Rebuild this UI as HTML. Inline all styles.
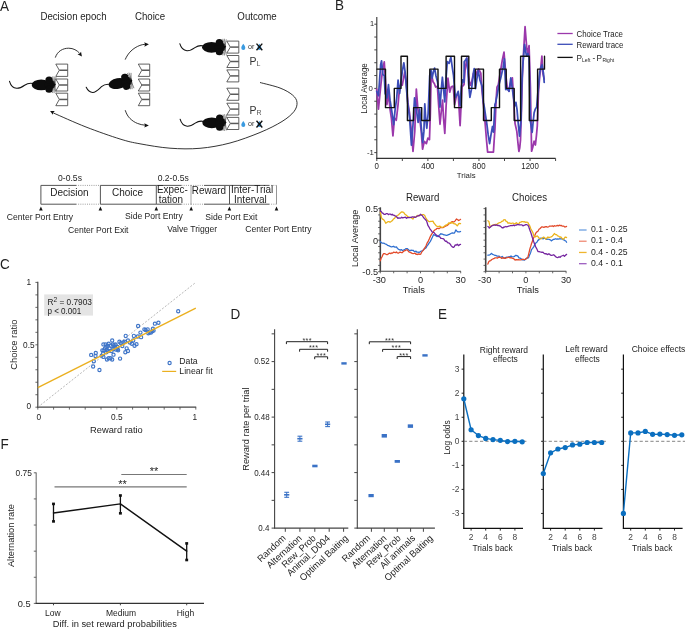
<!DOCTYPE html>
<html><head><meta charset="utf-8"><style>
html,body{margin:0;padding:0;background:#fff;width:685px;height:629px;overflow:hidden}
svg{display:block;will-change:transform;font-family:"Liberation Sans",sans-serif}
</style></head><body>
<svg width="685" height="629" viewBox="0 0 685 629">
<rect width="685" height="629" fill="#fff"/>
<text transform="translate(0.00,10.70) scale(0.9615,1)" font-size="14.04" text-anchor="start" fill="#1e1e1e" >A</text>
<text transform="translate(73.50,19.50) scale(0.9615,1)" font-size="10.09" text-anchor="middle" fill="#1e1e1e" >Decision epoch</text>
<text transform="translate(150.00,19.50) scale(0.9615,1)" font-size="10.09" text-anchor="middle" fill="#1e1e1e" >Choice</text>
<text transform="translate(257.00,19.50) scale(0.9615,1)" font-size="10.09" text-anchor="middle" fill="#1e1e1e" >Outcome</text>
<path d="M55.8,64.1 L67.7,64.1 L67.7,76.4 L55.8,76.4 L59.3,70.25 Z" fill="#fff" stroke="#3a3a3a" stroke-width="0.8"/>
<line x1="59.3" y1="70.25" x2="67.7" y2="70.25" stroke="#5a5a5a" stroke-width="1.5"/>
<path d="M55.8,79.0 L67.7,79.0 L67.7,91.0 L55.8,91.0 L59.3,85.0 Z" fill="#fff" stroke="#3a3a3a" stroke-width="0.8"/>
<line x1="59.3" y1="85.00" x2="67.7" y2="85.00" stroke="#5a5a5a" stroke-width="1.5"/>
<path d="M55.8,93.2 L67.7,93.2 L67.7,105.7 L55.8,105.7 L59.3,99.45 Z" fill="#fff" stroke="#3a3a3a" stroke-width="0.8"/>
<line x1="59.3" y1="99.45" x2="67.7" y2="99.45" stroke="#5a5a5a" stroke-width="1.5"/>
<path d="M138.3,64.1 L149.7,64.1 L149.7,76.4 L138.3,76.4 L141.8,70.25 Z" fill="#fff" stroke="#3a3a3a" stroke-width="0.8"/>
<line x1="141.8" y1="70.25" x2="149.7" y2="70.25" stroke="#5a5a5a" stroke-width="1.5"/>
<path d="M138.3,79.0 L149.7,79.0 L149.7,91.0 L138.3,91.0 L141.8,85.0 Z" fill="#fff" stroke="#3a3a3a" stroke-width="0.8"/>
<line x1="141.8" y1="85.00" x2="149.7" y2="85.00" stroke="#5a5a5a" stroke-width="1.5"/>
<path d="M138.3,93.2 L149.7,93.2 L149.7,105.7 L138.3,105.7 L141.8,99.45 Z" fill="#fff" stroke="#3a3a3a" stroke-width="0.8"/>
<line x1="141.8" y1="99.45" x2="149.7" y2="99.45" stroke="#5a5a5a" stroke-width="1.5"/>
<path d="M226.8,41.1 L238.8,41.1 L238.8,53.1 L226.8,53.1 L230.3,47.1 Z" fill="#fff" stroke="#3a3a3a" stroke-width="0.8"/>
<line x1="230.3" y1="47.10" x2="238.8" y2="47.10" stroke="#5a5a5a" stroke-width="1.5"/>
<path d="M226.8,55.5 L238.8,55.5 L238.8,67.5 L226.8,67.5 L230.3,61.5 Z" fill="#fff" stroke="#3a3a3a" stroke-width="0.8"/>
<line x1="230.3" y1="61.50" x2="238.8" y2="61.50" stroke="#5a5a5a" stroke-width="1.5"/>
<path d="M226.8,69.9 L238.8,69.9 L238.8,81.9 L226.8,81.9 L230.3,75.9 Z" fill="#fff" stroke="#3a3a3a" stroke-width="0.8"/>
<line x1="230.3" y1="75.90" x2="238.8" y2="75.90" stroke="#5a5a5a" stroke-width="1.5"/>
<path d="M226.8,88.2 L238.8,88.2 L238.8,100.3 L226.8,100.3 L230.3,94.25 Z" fill="#fff" stroke="#3a3a3a" stroke-width="0.8"/>
<line x1="230.3" y1="94.25" x2="238.8" y2="94.25" stroke="#5a5a5a" stroke-width="1.5"/>
<path d="M226.8,103.2 L238.8,103.2 L238.8,115.0 L226.8,115.0 L230.3,109.1 Z" fill="#fff" stroke="#3a3a3a" stroke-width="0.8"/>
<line x1="230.3" y1="109.10" x2="238.8" y2="109.10" stroke="#5a5a5a" stroke-width="1.5"/>
<path d="M226.8,117.4 L238.8,117.4 L238.8,129.5 L226.8,129.5 L230.3,123.45 Z" fill="#fff" stroke="#3a3a3a" stroke-width="0.8"/>
<line x1="230.3" y1="123.45" x2="238.8" y2="123.45" stroke="#5a5a5a" stroke-width="1.5"/>
<g transform="translate(55.60,84.70) rotate(0)">
<path d="M-22.6,-1.2 C-26,-2 -28,-1.5 -31,0.5 C-34,2.6 -36.5,3.8 -39,3.6 C-42,3.4 -44.8,1 -46.1,-3.4" fill="none" stroke="#111" stroke-width="1.05" stroke-linecap="round"/>
<ellipse cx="-14.4" cy="0.2" rx="9.5" ry="5.35" fill="#0d0d0d"/>
<ellipse cx="-5.6" cy="0" rx="5.6" ry="4.8" fill="#0d0d0d"/>
<ellipse cx="-6.5" cy="-4.7" rx="3.7" ry="3.5" fill="#0d0d0d"/>
<ellipse cx="-6.5" cy="4.6" rx="3.7" ry="3.5" fill="#0d0d0d"/>
<path d="M-1.5,0 L0.4,0 L-0.6,-1.2 Z" fill="#0d0d0d"/>
<path d="M-3.2,-8.2 L-1.2,-1.2 M-1.6,-8.4 L-0.6,-1.2 M0.4,-7.8 L-0.8,-1.4 M-3.2,8.2 L-1.2,1.2 M-1.6,8.4 L-0.6,1.2 M0.4,7.8 L-0.8,1.4" stroke="#444" stroke-width="0.6" fill="none"/>
</g>
<g transform="translate(132.10,80.60) rotate(-10.7)">
<ellipse cx="-14.4" cy="0.2" rx="9.5" ry="5.35" fill="#0d0d0d"/>
<ellipse cx="-5.6" cy="0" rx="5.6" ry="4.8" fill="#0d0d0d"/>
<ellipse cx="-6.5" cy="-4.7" rx="3.7" ry="3.5" fill="#0d0d0d"/>
<ellipse cx="-6.5" cy="4.6" rx="3.7" ry="3.5" fill="#0d0d0d"/>
<path d="M-1.5,0 L0.4,0 L-0.6,-1.2 Z" fill="#0d0d0d"/>
<path d="M-3.2,-8.2 L-1.2,-1.2 M-1.6,-8.4 L-0.6,-1.2 M0.4,-7.8 L-0.8,-1.4 M-3.2,8.2 L-1.2,1.2 M-1.6,8.4 L-0.6,1.2 M0.4,7.8 L-0.8,1.4" stroke="#444" stroke-width="0.6" fill="none"/>
</g>
<path d="M109.8,84.4 C106,84 104,84.5 101.5,86.7 C99,89 96,92.5 92.7,92.4 C90,92.3 87.5,90 86.2,87.3" fill="none" stroke="#111" stroke-width="1.05" stroke-linecap="round"/>
<g transform="translate(225.90,47.10) rotate(0)">
<path d="M-22.6,-1.2 C-26,-2 -28,-1.5 -31,0.5 C-34,2.6 -36.5,3.8 -39,3.6 C-42,3.4 -44.8,1 -46.1,-3.4" fill="none" stroke="#111" stroke-width="1.05" stroke-linecap="round"/>
<ellipse cx="-14.4" cy="0.2" rx="9.5" ry="5.35" fill="#0d0d0d"/>
<ellipse cx="-5.6" cy="0" rx="5.6" ry="4.8" fill="#0d0d0d"/>
<ellipse cx="-6.5" cy="-4.7" rx="3.7" ry="3.5" fill="#0d0d0d"/>
<ellipse cx="-6.5" cy="4.6" rx="3.7" ry="3.5" fill="#0d0d0d"/>
<path d="M-1.5,0 L0.4,0 L-0.6,-1.2 Z" fill="#0d0d0d"/>
<path d="M-3.2,-8.2 L-1.2,-1.2 M-1.6,-8.4 L-0.6,-1.2 M0.4,-7.8 L-0.8,-1.4 M-3.2,8.2 L-1.2,1.2 M-1.6,8.4 L-0.6,1.2 M0.4,7.8 L-0.8,1.4" stroke="#444" stroke-width="0.6" fill="none"/>
</g>
<g transform="translate(226.20,122.60) rotate(0)">
<path d="M-22.6,-1.2 C-26,-2 -28,-1.5 -31,0.5 C-34,2.6 -36.5,3.8 -39,3.6 C-42,3.4 -44.8,1 -46.1,-3.4" fill="none" stroke="#111" stroke-width="1.05" stroke-linecap="round"/>
<ellipse cx="-14.4" cy="0.2" rx="9.5" ry="5.35" fill="#0d0d0d"/>
<ellipse cx="-5.6" cy="0" rx="5.6" ry="4.8" fill="#0d0d0d"/>
<ellipse cx="-6.5" cy="-4.7" rx="3.7" ry="3.5" fill="#0d0d0d"/>
<ellipse cx="-6.5" cy="4.6" rx="3.7" ry="3.5" fill="#0d0d0d"/>
<path d="M-1.5,0 L0.4,0 L-0.6,-1.2 Z" fill="#0d0d0d"/>
<path d="M-3.2,-8.2 L-1.2,-1.2 M-1.6,-8.4 L-0.6,-1.2 M0.4,-7.8 L-0.8,-1.4 M-3.2,8.2 L-1.2,1.2 M-1.6,8.4 L-0.6,1.2 M0.4,7.8 L-0.8,1.4" stroke="#444" stroke-width="0.6" fill="none"/>
</g>
<path d="M55.3,57.6 C57.5,51 63,48.2 68.7,48.2 C73.5,48.2 77,50.5 79.4,53.0" fill="none" stroke="#111" stroke-width="0.85"/>
<polygon points="81.90,56.50 77.51,54.28 79.69,53.53 81.04,51.66" fill="#111"/>
<path d="M125.2,59.6 C128,53 133,48 139.9,45.4 C141.5,44.8 143,44.5 145,44.3" fill="none" stroke="#111" stroke-width="0.85"/>
<polygon points="148.90,44.20 144.40,46.65 145.04,44.37 144.21,42.15" fill="#111"/>
<path d="M125.2,110.2 C126.5,114 128,116.5 129.9,118.4 C132.5,121 135,122.4 137.4,123.4 C140,124.4 142.5,125 145,125.2" fill="none" stroke="#111" stroke-width="0.85"/>
<polygon points="148.90,125.40 144.30,127.55 145.04,125.40 144.30,123.25" fill="#111"/>
<path d="M260.00,82.50 C263.33,83.42 274.58,85.92 280.00,88.00 C285.42,90.08 289.67,92.60 292.50,95.00 C295.33,97.40 296.75,99.65 297.00,102.40 C297.25,105.15 296.50,108.32 294.00,111.50 C291.50,114.68 287.67,118.00 282.00,121.50 C276.33,125.00 268.67,128.92 260.00,132.50 C251.33,136.08 240.00,140.37 230.00,143.00 C220.00,145.63 210.00,147.43 200.00,148.30 C190.00,149.17 180.00,148.95 170.00,148.20 C160.00,147.45 148.33,145.33 140.00,143.80 C131.67,142.27 129.00,141.80 120.00,139.00 C111.00,136.20 97.10,131.33 86.00,127.00 C74.90,122.67 58.83,115.33 53.40,113.00" fill="none" stroke="#111" stroke-width="0.85"/>
<polygon points="50.10,111.00 54.79,111.10 53.22,112.64 52.84,114.81" fill="#111"/>
<path d="M243.3,43.70 C244.2,45.20 245.3,46.40 245.3,47.90 A2,2 0 0 1 241.3,47.90 C241.3,46.40 242.4,45.20 243.3,43.70 Z" fill="#3b9be0"/>
<text transform="translate(251.20,49.10) scale(0.9615,1)" font-size="7.49" text-anchor="middle" fill="#333" >or</text>
<path d="M259.40,43.70 C260.30,45.20 261.40,46.40 261.40,47.90 A2,2 0 0 1 257.40,47.90 C257.40,46.40 258.50,45.20 259.40,43.70 Z" fill="#3b9be0"/>
<path d="M256.5,43.60 L262.3,50.30 M262.3,43.60 L256.5,50.30" stroke="#111" stroke-width="1.35" stroke-linecap="butt"/>
<text transform="translate(249.60,65.00) scale(0.9615,1)" font-size="10.92" text-anchor="start" fill="#333" >P</text>
<text transform="translate(256.60,66.40) scale(0.9615,1)" font-size="7.28" text-anchor="start" fill="#555" >L</text>
<path d="M243.3,120.90 C244.2,122.40 245.3,123.60 245.3,125.10 A2,2 0 0 1 241.3,125.10 C241.3,123.60 242.4,122.40 243.3,120.90 Z" fill="#3b9be0"/>
<text transform="translate(251.20,126.30) scale(0.9615,1)" font-size="7.49" text-anchor="middle" fill="#333" >or</text>
<path d="M259.40,120.90 C260.30,122.40 261.40,123.60 261.40,125.10 A2,2 0 0 1 257.40,125.10 C257.40,123.60 258.50,122.40 259.40,120.90 Z" fill="#3b9be0"/>
<path d="M256.5,120.80 L262.3,127.50 M262.3,120.80 L256.5,127.50" stroke="#111" stroke-width="1.35" stroke-linecap="butt"/>
<text transform="translate(249.60,113.60) scale(0.9615,1)" font-size="10.92" text-anchor="start" fill="#333" >P</text>
<text transform="translate(256.60,115.00) scale(0.9615,1)" font-size="7.28" text-anchor="start" fill="#555" >R</text>
<line x1="40.90" y1="185.40" x2="76.00" y2="185.40" stroke="#555" stroke-width="1" />
<line x1="76.00" y1="185.40" x2="100.40" y2="185.40" stroke="#777" stroke-width="0.8" stroke-dasharray="0.9,1.3"/>
<line x1="100.40" y1="185.40" x2="156.30" y2="185.40" stroke="#555" stroke-width="1" />
<line x1="156.30" y1="185.40" x2="181.50" y2="185.40" stroke="#555" stroke-width="1" />
<line x1="181.50" y1="185.40" x2="191.00" y2="185.40" stroke="#777" stroke-width="0.8" stroke-dasharray="0.9,1.3"/>
<line x1="191.00" y1="185.40" x2="204.00" y2="185.40" stroke="#777" stroke-width="0.8" stroke-dasharray="0.9,1.3"/>
<line x1="204.00" y1="185.40" x2="229.50" y2="185.40" stroke="#555" stroke-width="1" />
<line x1="229.50" y1="185.40" x2="269.00" y2="185.40" stroke="#555" stroke-width="1" />
<line x1="269.00" y1="185.40" x2="276.50" y2="185.40" stroke="#777" stroke-width="0.8" stroke-dasharray="0.9,1.3"/>
<line x1="40.90" y1="204.20" x2="76.00" y2="204.20" stroke="#555" stroke-width="1" />
<line x1="76.00" y1="204.20" x2="100.40" y2="204.20" stroke="#777" stroke-width="0.8" stroke-dasharray="0.9,1.3"/>
<line x1="100.40" y1="204.20" x2="156.30" y2="204.20" stroke="#555" stroke-width="1" />
<line x1="156.30" y1="204.20" x2="181.50" y2="204.20" stroke="#555" stroke-width="1" />
<line x1="181.50" y1="204.20" x2="191.00" y2="204.20" stroke="#777" stroke-width="0.8" stroke-dasharray="0.9,1.3"/>
<line x1="191.00" y1="204.20" x2="204.00" y2="204.20" stroke="#777" stroke-width="0.8" stroke-dasharray="0.9,1.3"/>
<line x1="204.00" y1="204.20" x2="229.50" y2="204.20" stroke="#555" stroke-width="1" />
<line x1="229.50" y1="204.20" x2="269.00" y2="204.20" stroke="#555" stroke-width="1" />
<line x1="269.00" y1="204.20" x2="276.50" y2="204.20" stroke="#777" stroke-width="0.8" stroke-dasharray="0.9,1.3"/>
<line x1="40.90" y1="185.40" x2="40.90" y2="204.20" stroke="#555" stroke-width="1" />
<line x1="100.40" y1="185.40" x2="100.40" y2="204.20" stroke="#555" stroke-width="1" />
<line x1="156.30" y1="185.40" x2="156.30" y2="204.20" stroke="#555" stroke-width="1" />
<line x1="229.50" y1="185.40" x2="229.50" y2="204.20" stroke="#555" stroke-width="1" />
<line x1="191.00" y1="185.40" x2="191.00" y2="204.20" stroke="#999" stroke-width="0.9" />
<line x1="276.50" y1="185.40" x2="276.50" y2="204.20" stroke="#8a8a8a" stroke-width="0.9" />
<text transform="translate(70.00,180.80) scale(0.9615,1)" font-size="8.94" text-anchor="middle" fill="#1e1e1e" >0-0.5s</text>
<text transform="translate(173.20,180.50) scale(0.9615,1)" font-size="8.94" text-anchor="middle" fill="#1e1e1e" >0.2-0.5s</text>
<text transform="translate(69.40,196.10) scale(0.9615,1)" font-size="10.40" text-anchor="middle" fill="#1e1e1e" >Decision</text>
<text transform="translate(127.60,195.90) scale(0.9615,1)" font-size="10.40" text-anchor="middle" fill="#1e1e1e" >Choice</text>
<text transform="translate(172.40,193.40) scale(0.9615,1)" font-size="10.30" text-anchor="middle" fill="#1e1e1e" >Expec-</text>
<text transform="translate(170.90,202.70) scale(0.9615,1)" font-size="10.30" text-anchor="middle" fill="#1e1e1e" >tation</text>
<text transform="translate(208.90,193.50) scale(0.9615,1)" font-size="10.30" text-anchor="middle" fill="#1e1e1e" >Reward</text>
<text transform="translate(252.10,193.20) scale(0.9615,1)" font-size="10.40" text-anchor="middle" fill="#1e1e1e" >Inter-Trial</text>
<text transform="translate(250.40,202.70) scale(0.9615,1)" font-size="10.40" text-anchor="middle" fill="#1e1e1e" >Interval</text>
<polygon points="40.9,206.6 39.1,210.6 42.699999999999996,210.6" fill="#111"/>
<polygon points="100.4,206.6 98.60000000000001,210.6 102.2,210.6" fill="#111"/>
<polygon points="156.3,206.6 154.5,210.6 158.10000000000002,210.6" fill="#111"/>
<polygon points="191.2,206.6 189.39999999999998,210.6 193.0,210.6" fill="#111"/>
<polygon points="229.4,206.6 227.6,210.6 231.20000000000002,210.6" fill="#111"/>
<polygon points="276.5,206.6 274.7,210.6 278.3,210.6" fill="#111"/>
<text transform="translate(39.90,220.00) scale(0.9615,1)" font-size="8.94" text-anchor="middle" fill="#1e1e1e" >Center Port Entry</text>
<text transform="translate(98.20,232.60) scale(0.9615,1)" font-size="8.94" text-anchor="middle" fill="#1e1e1e" >Center Port Exit</text>
<text transform="translate(153.90,219.30) scale(0.9615,1)" font-size="8.94" text-anchor="middle" fill="#1e1e1e" >Side Port Entry</text>
<text transform="translate(192.20,231.60) scale(0.9615,1)" font-size="8.94" text-anchor="middle" fill="#1e1e1e" >Valve Trigger</text>
<text transform="translate(231.30,219.90) scale(0.9615,1)" font-size="8.94" text-anchor="middle" fill="#1e1e1e" >Side Port Exit</text>
<text transform="translate(278.40,231.60) scale(0.9615,1)" font-size="8.94" text-anchor="middle" fill="#1e1e1e" >Center Port Entry</text>
<text transform="translate(335.00,10.00) scale(0.9615,1)" font-size="14.04" text-anchor="start" fill="#1e1e1e" >B</text>
<line x1="376.80" y1="17.00" x2="376.80" y2="158.90" stroke="#333" stroke-width="1.1" />
<line x1="376.30" y1="158.40" x2="555.60" y2="158.40" stroke="#333" stroke-width="1.1" />
<line x1="374.30" y1="24.20" x2="376.80" y2="24.20" stroke="#333" stroke-width="0.9" />
<line x1="374.30" y1="37.04" x2="376.80" y2="37.04" stroke="#333" stroke-width="0.9" />
<line x1="374.30" y1="49.88" x2="376.80" y2="49.88" stroke="#333" stroke-width="0.9" />
<line x1="374.30" y1="62.72" x2="376.80" y2="62.72" stroke="#333" stroke-width="0.9" />
<line x1="374.30" y1="75.56" x2="376.80" y2="75.56" stroke="#333" stroke-width="0.9" />
<line x1="374.30" y1="88.40" x2="376.80" y2="88.40" stroke="#333" stroke-width="0.9" />
<line x1="374.30" y1="101.24" x2="376.80" y2="101.24" stroke="#333" stroke-width="0.9" />
<line x1="374.30" y1="114.08" x2="376.80" y2="114.08" stroke="#333" stroke-width="0.9" />
<line x1="374.30" y1="126.92" x2="376.80" y2="126.92" stroke="#333" stroke-width="0.9" />
<line x1="374.30" y1="139.76" x2="376.80" y2="139.76" stroke="#333" stroke-width="0.9" />
<line x1="374.30" y1="152.60" x2="376.80" y2="152.60" stroke="#333" stroke-width="0.9" />
<line x1="376.80" y1="158.40" x2="376.80" y2="161.00" stroke="#333" stroke-width="0.9" />
<line x1="402.34" y1="158.40" x2="402.34" y2="161.00" stroke="#333" stroke-width="0.9" />
<line x1="427.88" y1="158.40" x2="427.88" y2="161.00" stroke="#333" stroke-width="0.9" />
<line x1="453.42" y1="158.40" x2="453.42" y2="161.00" stroke="#333" stroke-width="0.9" />
<line x1="478.96" y1="158.40" x2="478.96" y2="161.00" stroke="#333" stroke-width="0.9" />
<line x1="504.50" y1="158.40" x2="504.50" y2="161.00" stroke="#333" stroke-width="0.9" />
<line x1="530.04" y1="158.40" x2="530.04" y2="161.00" stroke="#333" stroke-width="0.9" />
<line x1="555.58" y1="158.40" x2="555.58" y2="161.00" stroke="#333" stroke-width="0.9" />
<text transform="translate(374.00,25.90) scale(0.9615,1)" font-size="7.70" text-anchor="end" fill="#1e1e1e" >1</text>
<text transform="translate(372.80,91.30) scale(0.9615,1)" font-size="8.11" text-anchor="end" fill="#1e1e1e" >0</text>
<text transform="translate(373.80,155.00) scale(0.9615,1)" font-size="8.11" text-anchor="end" fill="#1e1e1e" >-1</text>
<text transform="translate(376.80,168.60) scale(0.9615,1)" font-size="8.22" text-anchor="middle" fill="#1e1e1e" >0</text>
<text transform="translate(427.88,168.60) scale(0.9615,1)" font-size="8.22" text-anchor="middle" fill="#1e1e1e" >400</text>
<text transform="translate(478.96,168.60) scale(0.9615,1)" font-size="8.22" text-anchor="middle" fill="#1e1e1e" >800</text>
<text transform="translate(530.04,168.60) scale(0.9615,1)" font-size="8.22" text-anchor="middle" fill="#1e1e1e" >1200</text>
<text transform="translate(466.20,177.60) scale(0.9615,1)" font-size="8.11" text-anchor="middle" fill="#1e1e1e" >Trials</text>
<text transform="translate(366.80,88.50) rotate(-90) scale(0.9615,1)" font-size="8.32" text-anchor="middle" fill="#1e1e1e">Local Average</text>
<polyline points="376.67,89.06 378.46,109.11 379.79,95.74 381.13,82.38 382.47,71.24 384.25,61.88 385.58,82.38 386.92,104.65 388.48,93.51 390.04,109.11 391.38,118.02 392.94,135.84 394.50,118.02 396.28,120.25 398.06,104.65 399.62,86.83 401.18,84.60 402.29,85.05 403.63,77.92 404.74,72.13 406.30,82.38 407.86,102.43 409.64,113.56 411.43,131.39 412.99,151.44 414.77,131.39 416.33,89.06 417.89,109.11 419.67,118.02 421.23,131.39 422.56,149.21 424.35,141.41 426.35,143.64 427.91,138.07 429.47,139.63 430.36,113.56 431.21,73.02 433.01,81.71 434.30,83.49 435.62,87.05 437.40,86.16 438.60,104.65 440.01,124.26 441.50,109.11 442.61,100.20 443.50,118.02 444.80,133.39 446.18,104.65 447.94,78.14 449.72,92.18 451.30,86.83 453.22,86.16 454.64,104.65 456.43,95.74 458.21,93.51 460.10,125.59 462.00,86.83 464.00,84.60 465.10,70.35 466.79,58.09 468.02,71.24 469.13,80.15 470.29,85.27 471.58,82.38 473.37,73.47 475.15,77.92 476.71,72.35 478.60,69.01 480.81,73.24 481.83,89.06 483.39,104.65 484.50,115.79 485.40,126.49 486.51,140.30 487.62,152.10 493.42,152.10 494.31,138.07 494.98,128.49 496.09,99.98 496.98,87.05 498.32,84.60 500.10,73.47 502.19,60.77 504.00,52.08 505.00,64.55 506.11,77.92 507.23,86.83 509.01,91.29 510.79,82.38 512.35,77.92 513.47,95.74 515.02,123.37 516.81,131.39 518.14,144.75 518.90,151.44 519.70,148.09 520.50,140.07 521.49,110.00 522.38,75.69 523.49,53.42 525.05,26.68 526.83,48.96 527.95,53.42 529.06,45.62 530.40,86.83 531.60,151.21 532.85,146.98 534.09,141.19 535.41,144.98 536.41,135.84 537.30,125.82 538.42,93.51 539.75,75.69 540.64,69.01 541.89,56.09 542.87,73.47 544.21,79.03" fill="none" stroke="#9b38ab" stroke-width="1.75" stroke-linejoin="round" stroke-linecap="round" />
<polyline points="376.67,91.29 378.46,95.74 380.68,64.55 381.57,60.77 382.91,74.58 384.25,75.69 385.14,93.51 386.92,97.97 388.48,84.60 390.04,100.20 391.82,111.34 393.60,124.70 395.16,109.11 396.72,97.97 398.06,80.15 399.62,93.51 401.18,80.15 402.51,70.12 403.85,62.77 405.19,72.35 406.30,86.83 407.86,104.65 409.64,118.02 411.43,145.20 412.99,124.70 414.54,97.97 416.33,109.11 418.11,122.48 419.67,109.11 421.23,126.93 422.79,142.52 423.90,131.39 424.79,103.76 425.68,118.02 426.80,128.27 428.13,113.56 429.69,75.69 431.03,70.35 432.14,78.14 433.48,71.24 434.59,68.12 435.93,75.69 437.49,81.71 439.05,93.51 439.94,107.10 441.50,86.83 442.39,77.25 443.28,86.83 444.80,101.98 445.73,82.38 447.29,61.66 449.07,63.44 450.86,57.20 452.19,66.78 453.53,75.69 455.31,97.30 456.87,94.63 458.21,91.29 460.10,105.54 461.33,86.83 462.66,79.93 464.00,82.38 464.21,61.66 465.90,59.43 466.79,58.09 467.71,67.67 468.69,84.60 469.89,97.30 471.61,88.61 473.41,73.02 474.19,68.56 475.50,88.61 476.71,80.15 478.20,70.35 479.89,79.93 482.10,86.16 483.39,102.43 484.39,107.33 485.62,115.79 486.80,123.59 488.20,134.95 489.61,143.64 490.97,134.95 492.50,126.49 493.50,132.05 494.91,104.43 495.64,102.43 497.43,93.51 498.99,84.60 500.50,79.03 503.11,67.67 504.40,58.99 505.71,89.50 507.23,89.06 509.01,91.29 510.79,77.92 512.35,89.06 513.91,100.20 515.09,105.54 515.92,102.43 517.01,109.33 518.14,122.48 519.50,136.06 521.00,120.02 521.71,86.83 522.82,64.55 524.60,44.50 526.39,55.64 527.95,53.42 529.06,57.87 530.31,120.69 531.29,126.93 532.20,132.28 533.07,122.48 534.09,113.12 535.30,109.11 536.70,106.88 537.97,91.29 539.75,72.35 540.64,67.90 542.09,64.78 543.50,73.47 544.21,82.38" fill="none" stroke="#3b4cb8" stroke-width="1.75" stroke-linejoin="round" stroke-linecap="round" />
<polyline points="377.00,69.14 385.50,69.14 385.50,107.66 394.30,107.66 394.30,88.40 401.00,88.40 401.00,56.30 407.40,56.30 407.40,120.50 413.60,120.50 413.60,107.66 421.70,107.66 421.70,120.50 429.80,120.50 429.80,69.14 438.00,69.14 438.00,88.40 446.10,88.40 446.10,56.30 454.50,56.30 454.50,107.66 461.50,107.66 461.50,56.30 468.80,56.30 468.80,88.40 475.40,88.40 475.40,69.14 483.50,69.14 483.50,120.50 491.30,120.50 491.30,107.66 499.50,107.66 499.50,69.14 506.20,69.14 506.20,88.40 514.20,88.40 514.20,120.50 520.60,120.50 520.60,56.30 529.30,56.30 529.30,120.50 537.60,120.50 537.60,69.14 544.50,69.14 544.50,56.30" fill="none" stroke="#111" stroke-width="1.4" stroke-linejoin="round" stroke-linecap="round" stroke-linecap="butt" stroke-linejoin="miter"/>
<line x1="557.40" y1="33.50" x2="572.70" y2="33.50" stroke="#9b38ab" stroke-width="1.3" />
<line x1="557.40" y1="44.30" x2="572.70" y2="44.30" stroke="#3b4cb8" stroke-width="1.3" />
<line x1="557.40" y1="57.40" x2="572.70" y2="57.40" stroke="#111" stroke-width="1.3" />
<text transform="translate(576.50,36.80) scale(0.9615,1)" font-size="8.22" text-anchor="start" fill="#1e1e1e" >Choice Trace</text>
<text transform="translate(576.50,47.60) scale(0.9615,1)" font-size="8.22" text-anchor="start" fill="#1e1e1e" >Reward trace</text>
<text transform="translate(576.50,60.50) scale(0.9615,1)" font-size="8.53" text-anchor="start" fill="#1e1e1e" >P</text>
<text transform="translate(582.00,62.00) scale(0.9615,1)" font-size="5.20" text-anchor="start" fill="#1e1e1e" >Left</text>
<text transform="translate(592.40,60.50) scale(0.9615,1)" font-size="8.53" text-anchor="start" fill="#1e1e1e" >-</text>
<text transform="translate(596.60,60.50) scale(0.9615,1)" font-size="8.53" text-anchor="start" fill="#1e1e1e" >P</text>
<text transform="translate(602.40,62.00) scale(0.9615,1)" font-size="5.20" text-anchor="start" fill="#1e1e1e" >Right</text>
<line x1="380.30" y1="207.30" x2="380.30" y2="271.30" stroke="#444" stroke-width="1.6" />
<line x1="379.80" y1="271.30" x2="460.90" y2="271.30" stroke="#444" stroke-width="1.1" />
<line x1="378.10" y1="208.60" x2="380.30" y2="208.60" stroke="#444" stroke-width="0.8" />
<line x1="378.10" y1="214.91" x2="380.30" y2="214.91" stroke="#444" stroke-width="0.8" />
<line x1="378.10" y1="221.22" x2="380.30" y2="221.22" stroke="#444" stroke-width="0.8" />
<line x1="378.10" y1="227.53" x2="380.30" y2="227.53" stroke="#444" stroke-width="0.8" />
<line x1="378.10" y1="233.84" x2="380.30" y2="233.84" stroke="#444" stroke-width="0.8" />
<line x1="378.10" y1="240.15" x2="380.30" y2="240.15" stroke="#444" stroke-width="0.8" />
<line x1="378.10" y1="246.46" x2="380.30" y2="246.46" stroke="#444" stroke-width="0.8" />
<line x1="378.10" y1="252.77" x2="380.30" y2="252.77" stroke="#444" stroke-width="0.8" />
<line x1="378.10" y1="259.08" x2="380.30" y2="259.08" stroke="#444" stroke-width="0.8" />
<line x1="378.10" y1="265.39" x2="380.30" y2="265.39" stroke="#444" stroke-width="0.8" />
<line x1="378.10" y1="271.70" x2="380.30" y2="271.70" stroke="#444" stroke-width="0.8" />
<line x1="380.30" y1="271.30" x2="380.30" y2="273.30" stroke="#444" stroke-width="0.8" />
<line x1="393.70" y1="271.30" x2="393.70" y2="273.30" stroke="#444" stroke-width="0.8" />
<line x1="407.10" y1="271.30" x2="407.10" y2="273.30" stroke="#444" stroke-width="0.8" />
<line x1="420.50" y1="271.30" x2="420.50" y2="273.30" stroke="#444" stroke-width="0.8" />
<line x1="433.90" y1="271.30" x2="433.90" y2="273.30" stroke="#444" stroke-width="0.8" />
<line x1="447.30" y1="271.30" x2="447.30" y2="273.30" stroke="#444" stroke-width="0.8" />
<line x1="460.70" y1="271.30" x2="460.70" y2="273.30" stroke="#444" stroke-width="0.8" />
<text transform="translate(379.30,283.00) scale(0.9615,1)" font-size="9.57" text-anchor="middle" fill="#1e1e1e" >-30</text>
<text transform="translate(420.50,283.00) scale(0.9615,1)" font-size="9.57" text-anchor="middle" fill="#1e1e1e" >0</text>
<text transform="translate(460.70,283.00) scale(0.9615,1)" font-size="9.57" text-anchor="middle" fill="#1e1e1e" >30</text>
<text transform="translate(413.80,292.60) scale(0.9615,1)" font-size="9.67" text-anchor="middle" fill="#1e1e1e" >Trials</text>
<text transform="translate(422.60,200.70) scale(0.9615,1)" font-size="10.09" text-anchor="middle" fill="#1e1e1e" >Reward</text>
<line x1="485.70" y1="207.30" x2="485.70" y2="271.30" stroke="#444" stroke-width="1.6" />
<line x1="485.20" y1="271.30" x2="566.30" y2="271.30" stroke="#444" stroke-width="1.1" />
<line x1="483.50" y1="208.60" x2="485.70" y2="208.60" stroke="#444" stroke-width="0.8" />
<line x1="483.50" y1="214.91" x2="485.70" y2="214.91" stroke="#444" stroke-width="0.8" />
<line x1="483.50" y1="221.22" x2="485.70" y2="221.22" stroke="#444" stroke-width="0.8" />
<line x1="483.50" y1="227.53" x2="485.70" y2="227.53" stroke="#444" stroke-width="0.8" />
<line x1="483.50" y1="233.84" x2="485.70" y2="233.84" stroke="#444" stroke-width="0.8" />
<line x1="483.50" y1="240.15" x2="485.70" y2="240.15" stroke="#444" stroke-width="0.8" />
<line x1="483.50" y1="246.46" x2="485.70" y2="246.46" stroke="#444" stroke-width="0.8" />
<line x1="483.50" y1="252.77" x2="485.70" y2="252.77" stroke="#444" stroke-width="0.8" />
<line x1="483.50" y1="259.08" x2="485.70" y2="259.08" stroke="#444" stroke-width="0.8" />
<line x1="483.50" y1="265.39" x2="485.70" y2="265.39" stroke="#444" stroke-width="0.8" />
<line x1="483.50" y1="271.70" x2="485.70" y2="271.70" stroke="#444" stroke-width="0.8" />
<line x1="485.70" y1="271.30" x2="485.70" y2="273.30" stroke="#444" stroke-width="0.8" />
<line x1="499.10" y1="271.30" x2="499.10" y2="273.30" stroke="#444" stroke-width="0.8" />
<line x1="512.50" y1="271.30" x2="512.50" y2="273.30" stroke="#444" stroke-width="0.8" />
<line x1="525.90" y1="271.30" x2="525.90" y2="273.30" stroke="#444" stroke-width="0.8" />
<line x1="539.30" y1="271.30" x2="539.30" y2="273.30" stroke="#444" stroke-width="0.8" />
<line x1="552.70" y1="271.30" x2="552.70" y2="273.30" stroke="#444" stroke-width="0.8" />
<line x1="566.10" y1="271.30" x2="566.10" y2="273.30" stroke="#444" stroke-width="0.8" />
<text transform="translate(484.70,283.00) scale(0.9615,1)" font-size="9.57" text-anchor="middle" fill="#1e1e1e" >-30</text>
<text transform="translate(525.90,283.00) scale(0.9615,1)" font-size="9.57" text-anchor="middle" fill="#1e1e1e" >0</text>
<text transform="translate(566.10,283.00) scale(0.9615,1)" font-size="9.57" text-anchor="middle" fill="#1e1e1e" >30</text>
<text transform="translate(527.80,292.60) scale(0.9615,1)" font-size="9.67" text-anchor="middle" fill="#1e1e1e" >Trials</text>
<text transform="translate(529.60,200.70) scale(0.9615,1)" font-size="10.09" text-anchor="middle" fill="#1e1e1e" >Choices</text>
<text transform="translate(378.20,211.50) scale(0.9615,1)" font-size="9.57" text-anchor="end" fill="#1e1e1e" >0.5</text>
<text transform="translate(378.20,243.80) scale(0.9615,1)" font-size="9.57" text-anchor="end" fill="#1e1e1e" >0</text>
<text transform="translate(378.20,275.00) scale(0.9615,1)" font-size="9.57" text-anchor="end" fill="#1e1e1e" >-0.5</text>
<text transform="translate(357.90,238.40) rotate(-90) scale(0.9615,1)" font-size="9.46" text-anchor="middle" fill="#1e1e1e">Local Average</text>
<polyline points="380.29,241.49 381.22,242.59 382.15,243.21 383.23,243.20 384.30,243.38 385.37,244.01 386.45,244.25 387.52,245.38 388.59,245.57 389.67,246.12 390.74,246.59 391.69,246.95 392.65,246.51 393.60,246.26 394.55,247.02 395.51,247.11 396.46,246.94 397.42,248.38 398.37,249.18 399.32,249.71 400.28,250.04 401.23,249.63 402.19,250.33 403.14,250.28 404.09,249.80 405.05,249.33 406.12,248.57 407.19,248.58 408.27,249.49 409.34,250.53 410.29,250.59 411.25,250.05 412.20,250.48 413.16,250.29 414.11,251.37 415.06,251.56 416.02,251.21 416.97,252.23 417.93,252.11 418.88,252.44 419.83,252.12 420.79,251.25 421.86,250.93 422.93,250.48 424.01,249.08 425.08,248.46 426.15,247.63 427.23,245.45 428.30,244.43 429.37,242.64 430.45,241.29 431.52,238.97 432.59,236.79 433.66,234.59 434.74,235.22 435.81,235.78 436.88,236.60 437.96,236.06 438.91,235.59 439.86,234.81 440.82,233.68 441.77,234.21 442.73,234.15 443.68,234.85 444.63,234.84 445.59,235.20 446.54,235.42 447.50,235.21 448.45,234.60 449.40,234.42 450.36,233.73 451.31,233.24 452.27,232.85 453.34,233.18 454.41,233.08 455.13,231.60 455.84,229.88 456.92,231.19 457.99,231.89 458.85,231.94 459.71,231.86 460.56,231.48" fill="none" stroke="#2e6fd0" stroke-width="1.28" stroke-linejoin="round" stroke-linecap="round" />
<polyline points="380.29,260.81 381.44,257.55 382.15,256.54 382.87,254.66 383.59,253.74 384.30,253.65 385.37,253.96 386.45,254.54 387.52,254.55 388.59,253.64 389.67,253.14 390.74,253.60 391.69,252.96 392.65,253.13 393.60,252.11 394.55,252.45 395.51,252.61 396.46,251.93 397.42,252.95 398.37,253.14 399.32,252.42 400.28,252.18 401.23,252.51 402.19,252.71 403.14,251.62 404.09,250.96 405.05,250.71 406.12,249.92 407.19,249.77 408.27,251.08 409.34,252.22 410.29,252.41 411.25,252.88 412.20,253.35 413.16,253.61 414.11,253.43 415.06,253.13 416.02,254.27 416.97,254.20 417.93,254.53 418.88,253.79 419.83,254.44 420.79,254.05 421.86,251.81 422.93,250.61 424.01,249.25 425.08,247.45 426.15,245.55 427.23,242.84 428.30,241.14 429.37,238.82 430.45,236.27 431.52,234.44 432.59,232.97 433.66,231.14 434.74,230.05 435.81,229.43 436.88,228.46 437.96,228.33 438.91,228.71 439.86,228.05 440.82,227.54 441.77,227.72 442.73,227.65 443.68,227.38 444.63,226.57 445.59,226.16 446.54,225.76 447.50,225.35 448.45,224.35 449.40,223.49 450.36,223.12 451.31,222.14 452.27,221.68 453.22,221.92 454.17,221.76 455.13,220.85 455.84,219.91 456.56,218.95 457.63,219.68 458.70,220.56 459.63,219.97 460.56,219.32" fill="none" stroke="#e24a2a" stroke-width="1.28" stroke-linejoin="round" stroke-linecap="round" />
<polyline points="380.29,212.16 381.44,217.67 382.51,219.09 383.59,219.54 384.66,221.01 385.73,223.26 386.80,222.44 387.88,221.65 388.95,221.61 390.02,222.29 391.10,221.58 392.17,220.84 393.24,219.30 394.32,218.52 395.39,217.05 396.46,215.98 397.54,215.57 398.61,214.80 399.56,213.64 400.52,212.82 401.47,211.91 402.54,212.01 403.62,212.36 404.69,213.91 405.76,214.82 406.84,215.61 407.91,216.89 408.86,216.96 409.82,217.48 410.77,217.60 411.84,218.08 412.92,219.12 413.63,217.84 414.35,217.18 415.42,217.15 416.49,216.22 417.57,215.39 418.64,215.89 419.71,215.21 420.79,214.57 421.74,214.76 422.69,214.60 423.65,214.63 424.72,215.58 425.79,217.70 426.87,219.68 427.94,220.80 428.90,221.55 429.85,221.60 430.80,221.42 431.88,221.35 432.95,221.17 434.02,223.22 435.10,224.33 436.17,225.76 437.24,226.31 438.31,226.53 439.39,226.19 440.46,226.43 441.53,227.26 442.61,227.29 443.68,226.72 444.63,225.98 445.59,225.21 446.54,224.85 447.62,224.33 448.69,222.81 449.76,223.34 450.83,222.35 451.91,223.20 452.98,222.68 454.05,223.75 455.13,223.84 456.20,224.69 457.27,225.77 457.99,224.85 458.70,223.71 459.63,223.40 460.56,223.61" fill="none" stroke="#ebb31c" stroke-width="1.28" stroke-linejoin="round" stroke-linecap="round" />
<polyline points="380.29,210.73 381.22,211.52 382.15,212.93 383.23,213.45 384.30,214.42 385.37,214.30 386.45,213.54 387.40,213.58 388.35,214.58 389.31,214.04 390.26,214.02 391.22,214.85 392.17,214.28 393.12,215.16 394.08,215.24 395.03,215.89 395.99,216.07 396.94,217.32 397.89,218.29 398.85,217.91 399.80,218.15 400.76,218.07 401.71,217.26 402.66,217.88 403.62,217.56 404.57,217.38 405.52,217.23 406.48,218.29 407.43,217.62 408.39,217.65 409.34,217.59 410.29,217.31 411.25,217.44 412.20,216.77 413.16,217.21 414.11,216.82 415.06,217.36 416.02,217.16 416.97,216.15 417.93,216.05 418.78,215.43 419.64,215.54 420.50,214.24 421.36,215.16 422.22,215.52 423.29,217.18 424.36,218.48 425.44,219.51 426.51,220.84 427.23,222.99 427.94,225.48 429.01,227.03 430.09,229.09 431.16,230.44 432.23,232.02 433.19,232.38 434.14,232.54 435.10,234.02 436.05,234.85 437.00,235.50 437.96,235.85 438.91,236.72 439.86,236.88 440.82,238.28 441.77,238.48 442.73,238.63 443.68,238.87 444.63,240.45 445.59,241.32 446.54,241.04 447.50,242.54 448.45,242.83 449.40,243.26 450.36,244.37 451.31,245.84 452.27,246.91 453.41,247.43 454.27,246.84 455.13,245.00 456.20,245.17 457.27,244.17 457.99,245.13 458.70,245.60 459.63,244.72 460.56,244.36" fill="none" stroke="#74249f" stroke-width="1.28" stroke-linejoin="round" stroke-linecap="round" />
<polyline points="487.87,255.09 488.59,255.17 489.30,255.01 490.37,254.46 491.45,253.33 492.52,254.36 493.59,254.73 494.67,255.26 495.74,255.43 496.81,256.04 497.89,256.04 498.96,256.10 500.03,257.02 501.10,257.28 502.18,256.45 503.25,257.84 504.32,258.06 505.28,257.58 506.23,257.23 507.19,257.43 508.14,256.95 509.09,256.96 510.05,256.70 511.00,256.02 511.96,256.62 512.91,256.76 513.86,256.61 514.82,256.07 515.77,255.30 516.84,255.62 517.92,256.12 518.99,257.93 520.06,258.16 521.14,258.73 522.21,259.82 523.28,259.53 524.36,260.15 525.43,259.31 526.50,258.19 527.58,258.04 528.65,257.61 529.36,255.42 530.08,254.07 530.79,252.13 531.51,249.57 532.58,248.29 533.66,246.85 534.73,244.89 535.80,242.96 536.88,242.24 537.95,240.39 539.02,239.64 540.10,238.21 541.05,238.55 542.00,238.11 542.96,238.94 543.91,238.19 544.86,238.27 545.82,238.97 546.77,239.36 547.73,239.04 548.68,239.25 549.63,239.55 550.59,240.05 551.54,240.91 552.50,239.95 553.45,239.41 554.40,239.30 555.36,238.74 556.31,239.03 557.27,238.99 558.22,239.03 559.17,238.80 560.13,238.75 561.08,238.99 562.03,238.66 562.99,239.58 563.94,239.88 564.90,240.58 565.85,241.03 566.57,242.21" fill="none" stroke="#2e6fd0" stroke-width="1.28" stroke-linejoin="round" stroke-linecap="round" />
<polyline points="487.87,264.10 488.87,261.47 489.80,260.88 490.73,260.56 491.80,259.49 492.88,258.96 493.83,258.71 494.79,257.94 495.74,257.96 496.69,257.95 497.65,257.99 498.60,257.07 499.55,257.45 500.51,257.36 501.46,258.29 502.42,258.16 503.37,257.45 504.32,258.48 505.28,258.32 506.23,257.83 507.19,257.65 508.14,257.29 509.09,257.27 510.05,257.98 511.00,257.70 511.96,258.09 512.91,258.38 513.98,258.86 515.06,260.06 516.13,259.67 517.20,259.76 518.16,259.54 519.11,259.82 520.06,259.81 521.02,259.84 521.97,259.48 522.93,259.14 523.88,259.69 524.83,259.45 525.79,259.04 526.86,258.18 527.93,257.03 528.65,254.07 529.36,251.28 530.08,248.18 530.79,246.08 531.51,243.53 532.23,241.88 532.94,239.22 533.66,237.71 534.73,235.80 535.80,233.08 536.88,231.87 537.95,231.21 539.02,229.30 540.10,228.43 541.05,227.45 542.00,226.76 542.96,227.04 543.91,227.30 544.86,226.84 545.82,226.73 546.77,226.76 547.73,227.22 548.68,226.75 549.63,226.05 550.59,226.19 551.54,226.03 552.50,225.84 553.45,226.51 554.40,225.69 555.36,226.01 556.31,225.79 557.27,225.41 558.22,225.91 559.17,225.16 560.13,225.63 561.08,225.38 562.03,226.05 562.99,226.15 563.88,226.22 564.78,226.99 565.67,226.80 566.57,226.47" fill="none" stroke="#e24a2a" stroke-width="1.28" stroke-linejoin="round" stroke-linecap="round" />
<polyline points="487.87,220.75 488.87,221.43 490.02,226.64 491.09,226.30 492.16,225.36 493.24,224.86 494.31,224.90 495.38,224.43 496.45,224.67 497.53,223.82 498.60,223.01 499.67,222.60 500.75,222.36 501.82,221.29 502.89,221.11 503.61,219.87 504.32,219.76 505.04,219.55 505.76,221.10 506.83,221.35 507.90,223.10 508.97,222.86 510.05,223.07 511.12,223.77 512.19,223.08 513.27,223.13 514.34,224.07 515.41,223.40 516.49,222.73 517.56,223.93 518.63,224.10 519.71,222.47 520.78,222.09 521.85,221.56 522.93,221.54 523.88,222.03 524.83,221.66 525.79,222.39 526.86,222.04 527.93,222.53 528.65,224.31 529.36,224.93 530.08,226.74 530.79,228.72 531.51,230.02 532.23,231.35 532.94,232.75 533.66,235.30 534.37,236.29 535.09,237.01 536.16,236.45 537.23,235.90 538.31,237.05 539.38,238.56 540.45,238.82 541.53,238.49 542.60,237.77 543.67,237.05 544.75,237.93 545.82,238.97 546.89,238.06 547.97,236.97 549.04,237.70 550.11,237.13 551.18,236.87 552.26,236.18 553.33,234.98 554.40,233.50 555.48,234.64 556.55,234.62 557.62,235.83 558.70,236.13 559.77,237.20 560.84,236.98 561.92,238.17 562.99,239.18 564.06,238.57 565.14,237.00 565.85,237.44 566.57,237.49" fill="none" stroke="#ebb31c" stroke-width="1.28" stroke-linejoin="round" stroke-linecap="round" />
<polyline points="487.87,226.47 488.59,226.92 489.30,228.11 490.02,227.39 490.73,226.85 491.80,225.77 492.88,225.46 493.83,225.13 494.79,224.98 495.74,225.30 496.69,224.87 497.65,225.55 498.60,225.44 499.67,225.89 500.75,226.40 501.82,227.56 502.89,228.02 503.85,227.03 504.80,226.99 505.76,226.51 506.71,226.93 507.66,226.48 508.62,226.09 509.57,225.92 510.52,225.64 511.48,225.68 512.43,225.60 513.39,225.11 514.34,225.85 515.29,225.17 516.25,225.18 517.20,224.68 518.16,224.68 519.11,224.75 520.06,224.96 521.02,224.98 521.97,224.91 522.93,225.82 523.88,225.42 524.83,225.24 525.79,224.53 526.86,224.74 527.93,225.31 528.65,226.43 529.36,228.81 530.08,230.70 530.79,232.55 531.51,234.73 532.23,237.23 532.94,239.08 533.66,241.45 534.73,244.47 535.80,247.10 536.88,248.96 537.95,251.50 539.02,251.58 540.10,251.94 541.05,252.03 542.00,252.37 542.96,252.19 543.91,253.16 544.86,253.82 545.82,253.54 546.77,254.14 547.73,254.61 548.68,253.87 549.63,254.22 550.59,255.19 551.54,255.46 552.62,255.24 553.69,254.71 554.76,255.71 555.83,256.92 556.91,257.30 557.98,257.57 559.05,256.76 560.13,257.34 561.20,256.09 562.27,255.75 563.35,255.26 564.42,256.32 565.49,255.20 566.57,254.37" fill="none" stroke="#74249f" stroke-width="1.28" stroke-linejoin="round" stroke-linecap="round" />
<line x1="579.00" y1="230.00" x2="586.60" y2="230.00" stroke="#6d9fe0" stroke-width="1.3" />
<text transform="translate(591.00,232.20) scale(0.9615,1)" font-size="9.05" text-anchor="start" fill="#1e1e1e" >0.1 - 0.25</text>
<line x1="579.00" y1="241.23" x2="586.60" y2="241.23" stroke="#ef8a75" stroke-width="1.3" />
<text transform="translate(591.00,243.43) scale(0.9615,1)" font-size="9.05" text-anchor="start" fill="#1e1e1e" >0.1 - 0.4</text>
<line x1="579.00" y1="252.46" x2="586.60" y2="252.46" stroke="#efb52e" stroke-width="1.3" />
<text transform="translate(591.00,254.66) scale(0.9615,1)" font-size="9.05" text-anchor="start" fill="#1e1e1e" >0.4 - 0.25</text>
<line x1="579.00" y1="263.69" x2="586.60" y2="263.69" stroke="#9c5cc0" stroke-width="1.3" />
<text transform="translate(591.00,265.89) scale(0.9615,1)" font-size="9.05" text-anchor="start" fill="#1e1e1e" >0.4 - 0.1</text>
<text transform="translate(0.00,268.90) scale(0.9615,1)" font-size="14.04" text-anchor="start" fill="#1e1e1e" >C</text>
<line x1="37.80" y1="281.80" x2="37.80" y2="407.70" stroke="#444" stroke-width="1.2" />
<line x1="37.30" y1="407.20" x2="196.20" y2="407.20" stroke="#444" stroke-width="1.2" />
<line x1="35.40" y1="407.20" x2="37.80" y2="407.20" stroke="#444" stroke-width="0.8" />
<line x1="37.80" y1="407.20" x2="37.80" y2="409.60" stroke="#444" stroke-width="0.8" />
<line x1="35.40" y1="394.72" x2="37.80" y2="394.72" stroke="#444" stroke-width="0.8" />
<line x1="53.60" y1="407.20" x2="53.60" y2="409.60" stroke="#444" stroke-width="0.8" />
<line x1="35.40" y1="382.24" x2="37.80" y2="382.24" stroke="#444" stroke-width="0.8" />
<line x1="69.40" y1="407.20" x2="69.40" y2="409.60" stroke="#444" stroke-width="0.8" />
<line x1="35.40" y1="369.76" x2="37.80" y2="369.76" stroke="#444" stroke-width="0.8" />
<line x1="85.20" y1="407.20" x2="85.20" y2="409.60" stroke="#444" stroke-width="0.8" />
<line x1="35.40" y1="357.28" x2="37.80" y2="357.28" stroke="#444" stroke-width="0.8" />
<line x1="101.00" y1="407.20" x2="101.00" y2="409.60" stroke="#444" stroke-width="0.8" />
<line x1="35.40" y1="344.80" x2="37.80" y2="344.80" stroke="#444" stroke-width="0.8" />
<line x1="116.80" y1="407.20" x2="116.80" y2="409.60" stroke="#444" stroke-width="0.8" />
<line x1="35.40" y1="332.32" x2="37.80" y2="332.32" stroke="#444" stroke-width="0.8" />
<line x1="132.60" y1="407.20" x2="132.60" y2="409.60" stroke="#444" stroke-width="0.8" />
<line x1="35.40" y1="319.84" x2="37.80" y2="319.84" stroke="#444" stroke-width="0.8" />
<line x1="148.40" y1="407.20" x2="148.40" y2="409.60" stroke="#444" stroke-width="0.8" />
<line x1="35.40" y1="307.36" x2="37.80" y2="307.36" stroke="#444" stroke-width="0.8" />
<line x1="164.20" y1="407.20" x2="164.20" y2="409.60" stroke="#444" stroke-width="0.8" />
<line x1="35.40" y1="294.88" x2="37.80" y2="294.88" stroke="#444" stroke-width="0.8" />
<line x1="180.00" y1="407.20" x2="180.00" y2="409.60" stroke="#444" stroke-width="0.8" />
<line x1="35.40" y1="282.40" x2="37.80" y2="282.40" stroke="#444" stroke-width="0.8" />
<line x1="195.80" y1="407.20" x2="195.80" y2="409.60" stroke="#444" stroke-width="0.8" />
<text transform="translate(31.20,285.00) scale(0.9615,1)" font-size="8.63" text-anchor="end" fill="#1e1e1e" >1</text>
<text transform="translate(34.60,347.60) scale(0.9615,1)" font-size="8.63" text-anchor="end" fill="#1e1e1e" >0.5</text>
<text transform="translate(31.20,409.00) scale(0.9615,1)" font-size="8.63" text-anchor="end" fill="#1e1e1e" >0</text>
<text transform="translate(38.80,419.80) scale(0.9615,1)" font-size="8.63" text-anchor="middle" fill="#1e1e1e" >0</text>
<text transform="translate(116.80,420.30) scale(0.9615,1)" font-size="8.63" text-anchor="middle" fill="#1e1e1e" >0.5</text>
<text transform="translate(194.80,420.30) scale(0.9615,1)" font-size="8.63" text-anchor="middle" fill="#1e1e1e" >1</text>
<text transform="translate(116.40,432.80) scale(0.9615,1)" font-size="9.67" text-anchor="middle" fill="#1e1e1e" >Reward ratio</text>
<text transform="translate(17.00,344.70) rotate(-90) scale(0.9615,1)" font-size="9.78" text-anchor="middle" fill="#1e1e1e">Choice ratio</text>
<rect x="44.2" y="294.4" width="48.8" height="21.2" fill="#e4e4e4"/>
<text transform="translate(47.40,305.10) scale(0.9615,1)" font-size="8.63" text-anchor="start" fill="#1e1e1e" >R<tspan font-size="6.9" dy="-3.5">2</tspan><tspan dy="3.5"> = 0.7903</tspan></text>
<text transform="translate(47.40,314.00) scale(0.9615,1)" font-size="8.42" text-anchor="start" fill="#1e1e1e" >p &lt; 0.001</text>
<line x1="37.80" y1="407.20" x2="195.80" y2="282.40" stroke="#9a9a9a" stroke-width="0.7" stroke-dasharray="2,1.6"/>
<circle cx="91.17" cy="354.93" r="1.6" fill="none" stroke="#3f75c8" stroke-width="1.15"/>
<circle cx="95.77" cy="352.96" r="1.6" fill="none" stroke="#3f75c8" stroke-width="1.15"/>
<circle cx="95.50" cy="355.98" r="1.6" fill="none" stroke="#3f75c8" stroke-width="1.15"/>
<circle cx="93.80" cy="361.23" r="1.6" fill="none" stroke="#3f75c8" stroke-width="1.15"/>
<circle cx="93.14" cy="366.49" r="1.6" fill="none" stroke="#3f75c8" stroke-width="1.15"/>
<circle cx="99.45" cy="370.04" r="1.6" fill="none" stroke="#3f75c8" stroke-width="1.15"/>
<circle cx="102.34" cy="350.33" r="1.6" fill="none" stroke="#3f75c8" stroke-width="1.15"/>
<circle cx="103.39" cy="344.42" r="1.6" fill="none" stroke="#3f75c8" stroke-width="1.15"/>
<circle cx="101.68" cy="355.58" r="1.6" fill="none" stroke="#3f75c8" stroke-width="1.15"/>
<circle cx="103.39" cy="356.90" r="1.6" fill="none" stroke="#3f75c8" stroke-width="1.15"/>
<circle cx="104.96" cy="348.36" r="1.6" fill="none" stroke="#3f75c8" stroke-width="1.15"/>
<circle cx="106.28" cy="347.04" r="1.6" fill="none" stroke="#3f75c8" stroke-width="1.15"/>
<circle cx="106.93" cy="350.33" r="1.6" fill="none" stroke="#3f75c8" stroke-width="1.15"/>
<circle cx="107.59" cy="345.73" r="1.6" fill="none" stroke="#3f75c8" stroke-width="1.15"/>
<circle cx="108.64" cy="343.76" r="1.6" fill="none" stroke="#3f75c8" stroke-width="1.15"/>
<circle cx="109.56" cy="348.36" r="1.6" fill="none" stroke="#3f75c8" stroke-width="1.15"/>
<circle cx="110.88" cy="345.73" r="1.6" fill="none" stroke="#3f75c8" stroke-width="1.15"/>
<circle cx="112.19" cy="340.47" r="1.6" fill="none" stroke="#3f75c8" stroke-width="1.15"/>
<circle cx="112.85" cy="344.42" r="1.6" fill="none" stroke="#3f75c8" stroke-width="1.15"/>
<circle cx="113.50" cy="349.02" r="1.6" fill="none" stroke="#3f75c8" stroke-width="1.15"/>
<circle cx="114.42" cy="345.07" r="1.6" fill="none" stroke="#3f75c8" stroke-width="1.15"/>
<circle cx="115.47" cy="344.42" r="1.6" fill="none" stroke="#3f75c8" stroke-width="1.15"/>
<circle cx="116.13" cy="349.67" r="1.6" fill="none" stroke="#3f75c8" stroke-width="1.15"/>
<circle cx="117.45" cy="349.02" r="1.6" fill="none" stroke="#3f75c8" stroke-width="1.15"/>
<circle cx="113.50" cy="354.66" r="1.6" fill="none" stroke="#3f75c8" stroke-width="1.15"/>
<circle cx="106.93" cy="359.53" r="1.6" fill="none" stroke="#3f75c8" stroke-width="1.15"/>
<circle cx="108.64" cy="358.21" r="1.6" fill="none" stroke="#3f75c8" stroke-width="1.15"/>
<circle cx="110.48" cy="358.21" r="1.6" fill="none" stroke="#3f75c8" stroke-width="1.15"/>
<circle cx="112.19" cy="359.53" r="1.6" fill="none" stroke="#3f75c8" stroke-width="1.15"/>
<circle cx="119.42" cy="341.79" r="1.6" fill="none" stroke="#3f75c8" stroke-width="1.15"/>
<circle cx="120.73" cy="343.10" r="1.6" fill="none" stroke="#3f75c8" stroke-width="1.15"/>
<circle cx="122.31" cy="345.99" r="1.6" fill="none" stroke="#3f75c8" stroke-width="1.15"/>
<circle cx="123.36" cy="342.45" r="1.6" fill="none" stroke="#3f75c8" stroke-width="1.15"/>
<circle cx="124.67" cy="341.79" r="1.6" fill="none" stroke="#3f75c8" stroke-width="1.15"/>
<circle cx="126.64" cy="348.36" r="1.6" fill="none" stroke="#3f75c8" stroke-width="1.15"/>
<circle cx="127.96" cy="350.99" r="1.6" fill="none" stroke="#3f75c8" stroke-width="1.15"/>
<circle cx="125.33" cy="352.30" r="1.6" fill="none" stroke="#3f75c8" stroke-width="1.15"/>
<circle cx="120.07" cy="358.61" r="1.6" fill="none" stroke="#3f75c8" stroke-width="1.15"/>
<circle cx="125.72" cy="335.88" r="1.6" fill="none" stroke="#3f75c8" stroke-width="1.15"/>
<circle cx="127.96" cy="340.47" r="1.6" fill="none" stroke="#3f75c8" stroke-width="1.15"/>
<circle cx="129.93" cy="342.45" r="1.6" fill="none" stroke="#3f75c8" stroke-width="1.15"/>
<circle cx="131.90" cy="343.76" r="1.6" fill="none" stroke="#3f75c8" stroke-width="1.15"/>
<circle cx="133.21" cy="340.47" r="1.6" fill="none" stroke="#3f75c8" stroke-width="1.15"/>
<circle cx="133.87" cy="335.88" r="1.6" fill="none" stroke="#3f75c8" stroke-width="1.15"/>
<circle cx="134.53" cy="345.73" r="1.6" fill="none" stroke="#3f75c8" stroke-width="1.15"/>
<circle cx="136.50" cy="344.15" r="1.6" fill="none" stroke="#3f75c8" stroke-width="1.15"/>
<circle cx="137.81" cy="336.53" r="1.6" fill="none" stroke="#3f75c8" stroke-width="1.15"/>
<circle cx="138.07" cy="326.02" r="1.6" fill="none" stroke="#3f75c8" stroke-width="1.15"/>
<circle cx="140.44" cy="332.59" r="1.6" fill="none" stroke="#3f75c8" stroke-width="1.15"/>
<circle cx="141.10" cy="337.19" r="1.6" fill="none" stroke="#3f75c8" stroke-width="1.15"/>
<circle cx="144.38" cy="329.31" r="1.6" fill="none" stroke="#3f75c8" stroke-width="1.15"/>
<circle cx="145.69" cy="329.96" r="1.6" fill="none" stroke="#3f75c8" stroke-width="1.15"/>
<circle cx="147.67" cy="329.31" r="1.6" fill="none" stroke="#3f75c8" stroke-width="1.15"/>
<circle cx="148.32" cy="333.25" r="1.6" fill="none" stroke="#3f75c8" stroke-width="1.15"/>
<circle cx="149.64" cy="332.59" r="1.6" fill="none" stroke="#3f75c8" stroke-width="1.15"/>
<circle cx="150.95" cy="332.59" r="1.6" fill="none" stroke="#3f75c8" stroke-width="1.15"/>
<circle cx="152.26" cy="331.28" r="1.6" fill="none" stroke="#3f75c8" stroke-width="1.15"/>
<circle cx="153.58" cy="330.62" r="1.6" fill="none" stroke="#3f75c8" stroke-width="1.15"/>
<circle cx="152.92" cy="328.65" r="1.6" fill="none" stroke="#3f75c8" stroke-width="1.15"/>
<circle cx="154.89" cy="323.66" r="1.6" fill="none" stroke="#3f75c8" stroke-width="1.15"/>
<circle cx="158.44" cy="322.74" r="1.6" fill="none" stroke="#3f75c8" stroke-width="1.15"/>
<circle cx="105.62" cy="344.42" r="1.6" fill="none" stroke="#3f75c8" stroke-width="1.15"/>
<circle cx="108.25" cy="350.99" r="1.6" fill="none" stroke="#3f75c8" stroke-width="1.15"/>
<circle cx="111.53" cy="350.99" r="1.6" fill="none" stroke="#3f75c8" stroke-width="1.15"/>
<circle cx="114.82" cy="347.04" r="1.6" fill="none" stroke="#3f75c8" stroke-width="1.15"/>
<circle cx="117.45" cy="347.04" r="1.6" fill="none" stroke="#3f75c8" stroke-width="1.15"/>
<circle cx="118.10" cy="350.33" r="1.6" fill="none" stroke="#3f75c8" stroke-width="1.15"/>
<circle cx="103.65" cy="350.33" r="1.6" fill="none" stroke="#3f75c8" stroke-width="1.15"/>
<circle cx="102.99" cy="353.61" r="1.6" fill="none" stroke="#3f75c8" stroke-width="1.15"/>
<circle cx="106.28" cy="352.30" r="1.6" fill="none" stroke="#3f75c8" stroke-width="1.15"/>
<circle cx="178.2" cy="311.2" r="1.6" fill="none" stroke="#3f75c8" stroke-width="1.15"/>
<line x1="37.80" y1="387.73" x2="195.80" y2="308.23" stroke="#ebb020" stroke-width="1.4" />
<circle cx="169.6" cy="363.0" r="1.6" fill="none" stroke="#3f75c8" stroke-width="1.15"/>
<text transform="translate(179.30,364.30) scale(0.9615,1)" font-size="9.05" text-anchor="start" fill="#1e1e1e" >Data</text>
<line x1="162.20" y1="371.40" x2="176.20" y2="371.40" stroke="#ebb020" stroke-width="1.2" />
<text transform="translate(179.30,374.20) scale(0.9615,1)" font-size="9.05" text-anchor="start" fill="#1e1e1e" >Linear fit</text>
<text transform="translate(0.50,449.10) scale(0.9615,1)" font-size="14.04" text-anchor="start" fill="#1e1e1e" >F</text>
<line x1="36.20" y1="472.50" x2="36.20" y2="603.90" stroke="#7a7a7a" stroke-width="1.2" />
<line x1="35.70" y1="603.40" x2="204.00" y2="603.40" stroke="#333" stroke-width="1.1" />
<line x1="53.50" y1="603.40" x2="53.50" y2="605.30" stroke="#333" stroke-width="0.9" />
<line x1="120.40" y1="603.40" x2="120.40" y2="605.30" stroke="#333" stroke-width="0.9" />
<line x1="186.70" y1="603.40" x2="186.70" y2="605.30" stroke="#333" stroke-width="0.9" />
<line x1="33.80" y1="472.80" x2="36.20" y2="472.80" stroke="#444" stroke-width="0.8" />
<line x1="33.80" y1="498.92" x2="36.20" y2="498.92" stroke="#444" stroke-width="0.8" />
<line x1="33.80" y1="525.04" x2="36.20" y2="525.04" stroke="#444" stroke-width="0.8" />
<line x1="33.80" y1="551.16" x2="36.20" y2="551.16" stroke="#444" stroke-width="0.8" />
<line x1="33.80" y1="577.28" x2="36.20" y2="577.28" stroke="#444" stroke-width="0.8" />
<line x1="33.80" y1="603.40" x2="36.20" y2="603.40" stroke="#444" stroke-width="0.8" />
<text transform="translate(31.80,475.90) scale(0.9615,1)" font-size="8.74" text-anchor="end" fill="#1e1e1e" >0.75</text>
<text transform="translate(30.60,606.60) scale(0.9615,1)" font-size="9.67" text-anchor="end" fill="#1e1e1e" >0.5</text>
<text transform="translate(52.80,615.70) scale(0.9615,1)" font-size="8.84" text-anchor="middle" fill="#1e1e1e" >Low</text>
<text transform="translate(121.00,615.70) scale(0.9615,1)" font-size="8.84" text-anchor="middle" fill="#1e1e1e" >Medium</text>
<text transform="translate(185.40,615.70) scale(0.9615,1)" font-size="8.84" text-anchor="middle" fill="#1e1e1e" >High</text>
<text transform="translate(114.80,627.30) scale(0.9615,1)" font-size="9.67" text-anchor="middle" fill="#1e1e1e" >Diff. in set reward probabilities</text>
<text transform="translate(14.20,535.60) rotate(-90) scale(0.9615,1)" font-size="9.67" text-anchor="middle" fill="#1e1e1e">Alternation rate</text>
<line x1="121.30" y1="474.50" x2="186.70" y2="474.50" stroke="#777" stroke-width="1.2" />
<line x1="54.50" y1="486.90" x2="186.70" y2="486.90" stroke="#777" stroke-width="1.2" />
<text transform="translate(153.90,474.80) scale(0.9615,1)" font-size="11.44" text-anchor="middle" fill="#1e1e1e" >**</text>
<text transform="translate(122.40,487.80) scale(0.9615,1)" font-size="11.44" text-anchor="middle" fill="#1e1e1e" >**</text>
<polyline points="53.50,513.00 120.40,503.90 186.70,551.10" fill="none" stroke="#111" stroke-width="1.45" stroke-linejoin="round" stroke-linecap="round" />
<line x1="53.50" y1="503.90" x2="53.50" y2="521.40" stroke="#111" stroke-width="1.3" />
<rect x="52.05" y="502.60" width="2.9" height="2.6" fill="#111"/>
<rect x="52.05" y="520.10" width="2.9" height="2.6" fill="#111"/>
<line x1="120.40" y1="495.50" x2="120.40" y2="513.30" stroke="#111" stroke-width="1.3" />
<rect x="118.95" y="494.20" width="2.9" height="2.6" fill="#111"/>
<rect x="118.95" y="512.00" width="2.9" height="2.6" fill="#111"/>
<line x1="186.70" y1="543.40" x2="186.70" y2="560.00" stroke="#111" stroke-width="1.3" />
<rect x="185.25" y="542.10" width="2.9" height="2.6" fill="#111"/>
<rect x="185.25" y="558.70" width="2.9" height="2.6" fill="#111"/>
<text transform="translate(230.50,319.00) scale(0.9615,1)" font-size="14.04" text-anchor="start" fill="#1e1e1e" >D</text>
<line x1="274.60" y1="329.20" x2="274.60" y2="528.60" stroke="#444" stroke-width="1.1" />
<line x1="274.10" y1="528.10" x2="348.30" y2="528.10" stroke="#444" stroke-width="1.1" />
<line x1="271.60" y1="333.85" x2="274.60" y2="333.85" stroke="#444" stroke-width="1.0" />
<line x1="271.60" y1="361.60" x2="274.60" y2="361.60" stroke="#444" stroke-width="1.0" />
<line x1="271.60" y1="389.35" x2="274.60" y2="389.35" stroke="#444" stroke-width="1.0" />
<line x1="271.60" y1="417.10" x2="274.60" y2="417.10" stroke="#444" stroke-width="1.0" />
<line x1="271.60" y1="444.85" x2="274.60" y2="444.85" stroke="#444" stroke-width="1.0" />
<line x1="271.60" y1="472.60" x2="274.60" y2="472.60" stroke="#444" stroke-width="1.0" />
<line x1="271.60" y1="500.35" x2="274.60" y2="500.35" stroke="#444" stroke-width="1.0" />
<line x1="271.60" y1="528.10" x2="274.60" y2="528.10" stroke="#444" stroke-width="1.0" />
<line x1="285.30" y1="528.10" x2="285.30" y2="531.80" stroke="#444" stroke-width="1.0" />
<line x1="299.90" y1="528.10" x2="299.90" y2="531.80" stroke="#444" stroke-width="1.0" />
<line x1="314.80" y1="528.10" x2="314.80" y2="531.80" stroke="#444" stroke-width="1.0" />
<line x1="329.20" y1="528.10" x2="329.20" y2="531.80" stroke="#444" stroke-width="1.0" />
<line x1="343.60" y1="528.10" x2="343.60" y2="531.80" stroke="#444" stroke-width="1.0" />
<line x1="286.70" y1="492.30" x2="286.70" y2="497.30" stroke="#3a72c6" stroke-width="1.0" />
<line x1="284.30" y1="492.30" x2="289.10" y2="492.30" stroke="#3a72c6" stroke-width="1.1" />
<line x1="284.30" y1="497.30" x2="289.10" y2="497.30" stroke="#3a72c6" stroke-width="1.1" />
<rect x="284.10" y="494.00" width="5.2" height="1.6" fill="#3a72c6"/>
<line x1="299.90" y1="436.20" x2="299.90" y2="441.20" stroke="#3a72c6" stroke-width="1.0" />
<line x1="297.50" y1="436.20" x2="302.30" y2="436.20" stroke="#3a72c6" stroke-width="1.1" />
<line x1="297.50" y1="441.20" x2="302.30" y2="441.20" stroke="#3a72c6" stroke-width="1.1" />
<rect x="297.30" y="437.90" width="5.2" height="1.6" fill="#3a72c6"/>
<rect x="312.25" y="464.70" width="5.3" height="2.6" fill="#3a72c6"/>
<line x1="327.60" y1="422.00" x2="327.60" y2="426.60" stroke="#3a72c6" stroke-width="1.0" />
<line x1="325.20" y1="422.00" x2="330.00" y2="422.00" stroke="#3a72c6" stroke-width="1.1" />
<line x1="325.20" y1="426.60" x2="330.00" y2="426.60" stroke="#3a72c6" stroke-width="1.1" />
<rect x="325.00" y="423.50" width="5.2" height="1.6" fill="#3a72c6"/>
<rect x="341.35" y="362.20" width="5.3" height="2.4" fill="#3a72c6"/>
<text transform="translate(286.40,538.90) rotate(-43) scale(0.9615,1)" font-size="9.57" text-anchor="end" fill="#1e1e1e">Random</text>
<text transform="translate(302.50,538.90) rotate(-43) scale(0.9615,1)" font-size="9.57" text-anchor="end" fill="#1e1e1e">Alternation</text>
<text transform="translate(316.60,538.90) rotate(-43) scale(0.9615,1)" font-size="9.57" text-anchor="end" fill="#1e1e1e">Rew_Prob</text>
<text transform="translate(330.80,538.90) rotate(-43) scale(0.9615,1)" font-size="9.57" text-anchor="end" fill="#1e1e1e">Animal_D004</text>
<text transform="translate(348.80,538.90) rotate(-43) scale(0.9615,1)" font-size="9.57" text-anchor="end" fill="#1e1e1e">Optimal Baiting</text>
<path d="M286.4,344.09999999999997 L286.4,341.7 L327.6,341.7 L327.6,344.09999999999997" fill="none" stroke="#222" stroke-width="1.0"/>
<text transform="translate(307.20,342.80) scale(0.9615,1)" font-size="7.49" text-anchor="middle" fill="#333" letter-spacing="0.4">***</text>
<path d="M299.6,351.7 L299.6,349.3 L327.6,349.3 L327.6,351.7" fill="none" stroke="#222" stroke-width="1.0"/>
<text transform="translate(313.70,350.40) scale(0.9615,1)" font-size="7.49" text-anchor="middle" fill="#333" letter-spacing="0.4">***</text>
<path d="M314.7,359.2 L314.7,356.8 L327.6,356.8 L327.6,359.2" fill="none" stroke="#222" stroke-width="1.0"/>
<text transform="translate(321.30,357.70) scale(0.9615,1)" font-size="7.49" text-anchor="middle" fill="#333" letter-spacing="0.4">***</text>
<line x1="357.30" y1="329.20" x2="357.30" y2="528.60" stroke="#444" stroke-width="1.1" />
<line x1="356.80" y1="528.10" x2="434.90" y2="528.10" stroke="#444" stroke-width="1.1" />
<line x1="354.30" y1="333.85" x2="357.30" y2="333.85" stroke="#444" stroke-width="1.0" />
<line x1="354.30" y1="361.60" x2="357.30" y2="361.60" stroke="#444" stroke-width="1.0" />
<line x1="354.30" y1="389.35" x2="357.30" y2="389.35" stroke="#444" stroke-width="1.0" />
<line x1="354.30" y1="417.10" x2="357.30" y2="417.10" stroke="#444" stroke-width="1.0" />
<line x1="354.30" y1="444.85" x2="357.30" y2="444.85" stroke="#444" stroke-width="1.0" />
<line x1="354.30" y1="472.60" x2="357.30" y2="472.60" stroke="#444" stroke-width="1.0" />
<line x1="354.30" y1="500.35" x2="357.30" y2="500.35" stroke="#444" stroke-width="1.0" />
<line x1="354.30" y1="528.10" x2="357.30" y2="528.10" stroke="#444" stroke-width="1.0" />
<line x1="371.40" y1="528.10" x2="371.40" y2="531.80" stroke="#444" stroke-width="1.0" />
<line x1="384.30" y1="528.10" x2="384.30" y2="531.80" stroke="#444" stroke-width="1.0" />
<line x1="397.30" y1="528.10" x2="397.30" y2="531.80" stroke="#444" stroke-width="1.0" />
<line x1="410.60" y1="528.10" x2="410.60" y2="531.80" stroke="#444" stroke-width="1.0" />
<line x1="423.40" y1="528.10" x2="423.40" y2="531.80" stroke="#444" stroke-width="1.0" />
<rect x="368.45" y="494.00" width="5.3" height="3.2" fill="#3a72c6"/>
<rect x="381.65" y="434.00" width="5.3" height="3.6" fill="#3a72c6"/>
<rect x="394.65" y="460.00" width="5.3" height="2.8" fill="#3a72c6"/>
<rect x="407.75" y="424.35" width="5.3" height="3.5" fill="#3a72c6"/>
<rect x="422.35" y="354.20" width="5.3" height="2.4" fill="#3a72c6"/>
<text transform="translate(370.90,538.90) rotate(-43) scale(0.9615,1)" font-size="9.57" text-anchor="end" fill="#1e1e1e">Random</text>
<text transform="translate(387.30,538.90) rotate(-43) scale(0.9615,1)" font-size="9.57" text-anchor="end" fill="#1e1e1e">Alternation</text>
<text transform="translate(401.40,538.90) rotate(-43) scale(0.9615,1)" font-size="9.57" text-anchor="end" fill="#1e1e1e">Rew_Prob</text>
<text transform="translate(415.90,538.90) rotate(-43) scale(0.9615,1)" font-size="9.57" text-anchor="end" fill="#1e1e1e">All animals</text>
<text transform="translate(433.60,538.90) rotate(-43) scale(0.9615,1)" font-size="9.57" text-anchor="end" fill="#1e1e1e">Optimal Baiting</text>
<path d="M369.3,344.2 L369.3,341.8 L410.6,341.8 L410.6,344.2" fill="none" stroke="#222" stroke-width="1.0"/>
<text transform="translate(389.70,342.80) scale(0.9615,1)" font-size="7.49" text-anchor="middle" fill="#333" letter-spacing="0.4">***</text>
<path d="M382.6,351.79999999999995 L382.6,349.4 L410.6,349.4 L410.6,351.79999999999995" fill="none" stroke="#222" stroke-width="1.0"/>
<text transform="translate(396.30,350.40) scale(0.9615,1)" font-size="7.49" text-anchor="middle" fill="#333" letter-spacing="0.4">***</text>
<path d="M397.2,359.0 L397.2,356.6 L410.6,356.6 L410.6,359.0" fill="none" stroke="#222" stroke-width="1.0"/>
<text transform="translate(403.90,357.70) scale(0.9615,1)" font-size="7.49" text-anchor="middle" fill="#333" letter-spacing="0.4">***</text>
<text transform="translate(269.70,364.40) scale(0.9615,1)" font-size="8.32" text-anchor="end" fill="#1e1e1e" >0.52</text>
<text transform="translate(269.70,420.00) scale(0.9615,1)" font-size="8.32" text-anchor="end" fill="#1e1e1e" >0.48</text>
<text transform="translate(269.70,475.60) scale(0.9615,1)" font-size="8.32" text-anchor="end" fill="#1e1e1e" >0.44</text>
<text transform="translate(269.40,531.00) scale(0.9615,1)" font-size="8.32" text-anchor="end" fill="#1e1e1e" >0.4</text>
<text transform="translate(249.30,429.10) rotate(-90) scale(0.9615,1)" font-size="9.57" text-anchor="middle" fill="#1e1e1e">Reward rate per trial</text>
<text transform="translate(438.10,319.10) scale(0.9615,1)" font-size="14.04" text-anchor="start" fill="#1e1e1e" >E</text>
<line x1="463.80" y1="354.40" x2="463.80" y2="528.90" stroke="#111" stroke-width="1.2" />
<line x1="463.30" y1="528.40" x2="523.00" y2="528.40" stroke="#111" stroke-width="1.2" />
<line x1="461.60" y1="369.15" x2="463.80" y2="369.15" stroke="#111" stroke-width="0.9" />
<line x1="461.60" y1="393.20" x2="463.80" y2="393.20" stroke="#111" stroke-width="0.9" />
<line x1="461.60" y1="417.25" x2="463.80" y2="417.25" stroke="#111" stroke-width="0.9" />
<line x1="461.60" y1="441.30" x2="463.80" y2="441.30" stroke="#111" stroke-width="0.9" />
<line x1="461.60" y1="465.35" x2="463.80" y2="465.35" stroke="#111" stroke-width="0.9" />
<line x1="461.60" y1="489.40" x2="463.80" y2="489.40" stroke="#111" stroke-width="0.9" />
<line x1="461.60" y1="513.45" x2="463.80" y2="513.45" stroke="#111" stroke-width="0.9" />
<line x1="471.10" y1="528.40" x2="471.10" y2="530.60" stroke="#111" stroke-width="0.9" />
<text transform="translate(471.10,540.30) scale(0.9615,1)" font-size="8.74" text-anchor="middle" fill="#444" >2</text>
<line x1="485.70" y1="528.40" x2="485.70" y2="530.60" stroke="#111" stroke-width="0.9" />
<text transform="translate(485.70,540.30) scale(0.9615,1)" font-size="8.74" text-anchor="middle" fill="#444" >4</text>
<line x1="500.30" y1="528.40" x2="500.30" y2="530.60" stroke="#111" stroke-width="0.9" />
<text transform="translate(500.30,540.30) scale(0.9615,1)" font-size="8.74" text-anchor="middle" fill="#444" >6</text>
<line x1="514.90" y1="528.40" x2="514.90" y2="530.60" stroke="#111" stroke-width="0.9" />
<text transform="translate(514.90,540.30) scale(0.9615,1)" font-size="8.74" text-anchor="middle" fill="#444" >8</text>
<text transform="translate(492.60,550.70) scale(0.9615,1)" font-size="8.74" text-anchor="middle" fill="#1e1e1e" >Trials back</text>
<line x1="463.80" y1="441.30" x2="526.80" y2="441.30" stroke="#666" stroke-width="0.8" stroke-dasharray="3.2,2.2"/>
<polyline points="463.80,398.73 471.10,429.76 478.40,435.53 485.70,438.41 493.00,439.62 500.30,440.34 507.60,441.54 514.90,441.30 522.20,441.78" fill="none" stroke="#0b6fc0" stroke-width="1.4" stroke-linejoin="round" stroke-linecap="round" />
<circle cx="463.80" cy="398.73" r="2.6" fill="#0b6fc0"/>
<circle cx="471.10" cy="429.76" r="2.6" fill="#0b6fc0"/>
<circle cx="478.40" cy="435.53" r="2.6" fill="#0b6fc0"/>
<circle cx="485.70" cy="438.41" r="2.6" fill="#0b6fc0"/>
<circle cx="493.00" cy="439.62" r="2.6" fill="#0b6fc0"/>
<circle cx="500.30" cy="440.34" r="2.6" fill="#0b6fc0"/>
<circle cx="507.60" cy="441.54" r="2.6" fill="#0b6fc0"/>
<circle cx="514.90" cy="441.30" r="2.6" fill="#0b6fc0"/>
<circle cx="522.20" cy="441.78" r="2.6" fill="#0b6fc0"/>
<text transform="translate(503.90,352.50) scale(0.9615,1)" font-size="8.84" text-anchor="middle" fill="#222" >Right reward</text>
<text transform="translate(505.40,362.00) scale(0.9615,1)" font-size="8.84" text-anchor="middle" fill="#222" >effects</text>
<line x1="543.30" y1="354.40" x2="543.30" y2="528.90" stroke="#111" stroke-width="1.2" />
<line x1="542.80" y1="528.40" x2="602.50" y2="528.40" stroke="#111" stroke-width="1.2" />
<line x1="541.10" y1="369.15" x2="543.30" y2="369.15" stroke="#111" stroke-width="0.9" />
<line x1="541.10" y1="393.20" x2="543.30" y2="393.20" stroke="#111" stroke-width="0.9" />
<line x1="541.10" y1="417.25" x2="543.30" y2="417.25" stroke="#111" stroke-width="0.9" />
<line x1="541.10" y1="441.30" x2="543.30" y2="441.30" stroke="#111" stroke-width="0.9" />
<line x1="541.10" y1="465.35" x2="543.30" y2="465.35" stroke="#111" stroke-width="0.9" />
<line x1="541.10" y1="489.40" x2="543.30" y2="489.40" stroke="#111" stroke-width="0.9" />
<line x1="541.10" y1="513.45" x2="543.30" y2="513.45" stroke="#111" stroke-width="0.9" />
<line x1="550.60" y1="528.40" x2="550.60" y2="530.60" stroke="#111" stroke-width="0.9" />
<text transform="translate(550.60,540.30) scale(0.9615,1)" font-size="8.74" text-anchor="middle" fill="#444" >2</text>
<line x1="565.20" y1="528.40" x2="565.20" y2="530.60" stroke="#111" stroke-width="0.9" />
<text transform="translate(565.20,540.30) scale(0.9615,1)" font-size="8.74" text-anchor="middle" fill="#444" >4</text>
<line x1="579.80" y1="528.40" x2="579.80" y2="530.60" stroke="#111" stroke-width="0.9" />
<text transform="translate(579.80,540.30) scale(0.9615,1)" font-size="8.74" text-anchor="middle" fill="#444" >6</text>
<line x1="594.40" y1="528.40" x2="594.40" y2="530.60" stroke="#111" stroke-width="0.9" />
<text transform="translate(594.40,540.30) scale(0.9615,1)" font-size="8.74" text-anchor="middle" fill="#444" >8</text>
<text transform="translate(572.10,550.70) scale(0.9615,1)" font-size="8.74" text-anchor="middle" fill="#1e1e1e" >Trials back</text>
<line x1="543.30" y1="441.30" x2="606.30" y2="441.30" stroke="#666" stroke-width="0.8" stroke-dasharray="3.2,2.2"/>
<polyline points="543.30,473.53 550.60,452.84 557.90,449.00 565.20,447.55 572.50,444.91 579.80,444.19 587.10,442.50 594.40,442.50 601.70,442.50" fill="none" stroke="#0b6fc0" stroke-width="1.4" stroke-linejoin="round" stroke-linecap="round" />
<circle cx="543.30" cy="473.53" r="2.6" fill="#0b6fc0"/>
<circle cx="550.60" cy="452.84" r="2.6" fill="#0b6fc0"/>
<circle cx="557.90" cy="449.00" r="2.6" fill="#0b6fc0"/>
<circle cx="565.20" cy="447.55" r="2.6" fill="#0b6fc0"/>
<circle cx="572.50" cy="444.91" r="2.6" fill="#0b6fc0"/>
<circle cx="579.80" cy="444.19" r="2.6" fill="#0b6fc0"/>
<circle cx="587.10" cy="442.50" r="2.6" fill="#0b6fc0"/>
<circle cx="594.40" cy="442.50" r="2.6" fill="#0b6fc0"/>
<circle cx="601.70" cy="442.50" r="2.6" fill="#0b6fc0"/>
<text transform="translate(586.50,352.40) scale(0.9615,1)" font-size="8.84" text-anchor="middle" fill="#222" >Left reward</text>
<text transform="translate(587.40,361.90) scale(0.9615,1)" font-size="8.84" text-anchor="middle" fill="#222" >effects</text>
<line x1="623.40" y1="354.40" x2="623.40" y2="528.90" stroke="#111" stroke-width="1.2" />
<line x1="622.90" y1="528.40" x2="682.60" y2="528.40" stroke="#111" stroke-width="1.2" />
<line x1="621.20" y1="369.15" x2="623.40" y2="369.15" stroke="#111" stroke-width="0.9" />
<line x1="621.20" y1="393.20" x2="623.40" y2="393.20" stroke="#111" stroke-width="0.9" />
<line x1="621.20" y1="417.25" x2="623.40" y2="417.25" stroke="#111" stroke-width="0.9" />
<line x1="621.20" y1="441.30" x2="623.40" y2="441.30" stroke="#111" stroke-width="0.9" />
<line x1="621.20" y1="465.35" x2="623.40" y2="465.35" stroke="#111" stroke-width="0.9" />
<line x1="621.20" y1="489.40" x2="623.40" y2="489.40" stroke="#111" stroke-width="0.9" />
<line x1="621.20" y1="513.45" x2="623.40" y2="513.45" stroke="#111" stroke-width="0.9" />
<line x1="630.70" y1="528.40" x2="630.70" y2="530.60" stroke="#111" stroke-width="0.9" />
<text transform="translate(630.70,540.30) scale(0.9615,1)" font-size="8.74" text-anchor="middle" fill="#444" >2</text>
<line x1="645.30" y1="528.40" x2="645.30" y2="530.60" stroke="#111" stroke-width="0.9" />
<text transform="translate(645.30,540.30) scale(0.9615,1)" font-size="8.74" text-anchor="middle" fill="#444" >4</text>
<line x1="659.90" y1="528.40" x2="659.90" y2="530.60" stroke="#111" stroke-width="0.9" />
<text transform="translate(659.90,540.30) scale(0.9615,1)" font-size="8.74" text-anchor="middle" fill="#444" >6</text>
<line x1="674.50" y1="528.40" x2="674.50" y2="530.60" stroke="#111" stroke-width="0.9" />
<text transform="translate(674.50,540.30) scale(0.9615,1)" font-size="8.74" text-anchor="middle" fill="#444" >8</text>
<text transform="translate(652.20,550.70) scale(0.9615,1)" font-size="8.74" text-anchor="middle" fill="#1e1e1e" >Trials back</text>
<line x1="623.40" y1="441.30" x2="686.40" y2="441.30" stroke="#666" stroke-width="0.8" stroke-dasharray="3.2,2.2"/>
<polyline points="623.40,513.45 630.70,432.88 638.00,432.88 645.30,431.44 652.60,434.33 659.90,434.09 667.20,434.57 674.50,435.29 681.80,434.81" fill="none" stroke="#0b6fc0" stroke-width="1.4" stroke-linejoin="round" stroke-linecap="round" />
<circle cx="623.40" cy="513.45" r="2.6" fill="#0b6fc0"/>
<circle cx="630.70" cy="432.88" r="2.6" fill="#0b6fc0"/>
<circle cx="638.00" cy="432.88" r="2.6" fill="#0b6fc0"/>
<circle cx="645.30" cy="431.44" r="2.6" fill="#0b6fc0"/>
<circle cx="652.60" cy="434.33" r="2.6" fill="#0b6fc0"/>
<circle cx="659.90" cy="434.09" r="2.6" fill="#0b6fc0"/>
<circle cx="667.20" cy="434.57" r="2.6" fill="#0b6fc0"/>
<circle cx="674.50" cy="435.29" r="2.6" fill="#0b6fc0"/>
<circle cx="681.80" cy="434.81" r="2.6" fill="#0b6fc0"/>
<text transform="translate(658.50,352.40) scale(0.9615,1)" font-size="8.84" text-anchor="middle" fill="#222" >Choice effects</text>
<text transform="translate(459.50,372.15) scale(0.9615,1)" font-size="8.74" text-anchor="end" fill="#444" >3</text>
<text transform="translate(459.50,396.20) scale(0.9615,1)" font-size="8.74" text-anchor="end" fill="#444" >2</text>
<text transform="translate(459.50,420.25) scale(0.9615,1)" font-size="8.74" text-anchor="end" fill="#444" >1</text>
<text transform="translate(459.50,444.30) scale(0.9615,1)" font-size="8.74" text-anchor="end" fill="#444" >0</text>
<text transform="translate(459.50,468.35) scale(0.9615,1)" font-size="8.74" text-anchor="end" fill="#444" >-1</text>
<text transform="translate(459.50,492.40) scale(0.9615,1)" font-size="8.74" text-anchor="end" fill="#444" >-2</text>
<text transform="translate(459.50,516.45) scale(0.9615,1)" font-size="8.74" text-anchor="end" fill="#444" >-3</text>
<text transform="translate(450.30,437.60) rotate(-90) scale(0.9615,1)" font-size="8.74" text-anchor="middle" fill="#1e1e1e">Log odds</text>
</svg></body></html>
